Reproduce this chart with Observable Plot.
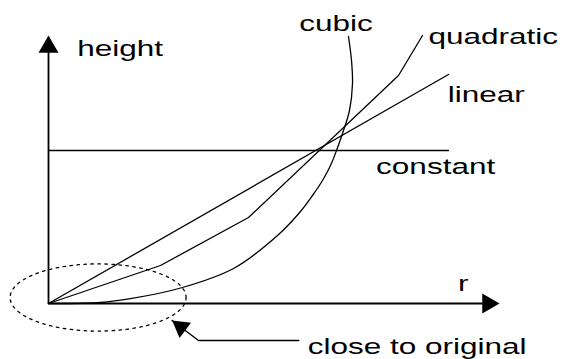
<!DOCTYPE html>
<html><head><meta charset="utf-8">
<script src="https://cdn.jsdelivr.net/npm/d3@7"></script>
<script src="https://cdn.jsdelivr.net/npm/@observablehq/plot@0.6"></script>
<style>body{margin:0;background:#fff}</style>
</head><body><div id="chart"></div>
<script>
// values (r units horizontally, height units vertically)
const constantR = [0, 10];
const constantH = [3.825, 3.825];
const linearR = [0, 10];
const linearH = [0, 5.725];
const quadraticR = [0, 2.8, 5.0, 8.75, 9.35];
const quadraticH = [0, 0.95, 2.15, 5.7, 6.7];
const cubicR = [0, 1.3, 2.05, 3.35, 4.625, 5.725, 6.3, 6.6, 6.85, 7.05, 7.2, 7.35, 7.525, 7.6, 7.575, 7.5];
const cubicH = [0, 0.025, 0.12, 0.4, 0.875, 1.7, 2.3, 2.7, 3.075, 3.45, 3.825, 4.25, 4.825, 5.5, 6.075, 6.675];
const labels = ["height", "cubic", "quadratic", "linear", "constant", "r", "close to original"];
const labelR = [0.72, 6.27, 9.5, 9.98, 8.19, 10.24, 6.48];
const labelH = [6.2, 6.825, 6.49, 5.03, 3.24, 0.325, -1.26];
const axisEndR = 11.275;
const axisEndH = 6.7;
const ellipseCenter = [1.24, 0.15];
const ellipseRadii = [2.2, 0.84];
const leaderR = [6.255, 3.75, 3.09];
const leaderH = [-0.925, -0.925, -0.425];

const pts = (R, H) => R.map((r, i) => ({r, h: H[i]}));
const ellipse = d3.range(0, 361, 3).map(a => {
  const t = a * Math.PI / 180;
  return {r: ellipseCenter[0] + ellipseRadii[0] * Math.cos(t), h: ellipseCenter[1] + ellipseRadii[1] * Math.sin(t)};
});
const labelData = labels.map((t, i) => ({t, r: labelR[i], h: labelH[i]}));
const lineOpts = {x: "r", y: "h", stroke: "black", strokeWidth: 1.3};

const plot = Plot.plot({
  width: 562,
  height: 359,
  marginLeft: 48,
  marginRight: 114,
  marginTop: 23,
  marginBottom: 56,
  x: {domain: [0, 10], axis: null},
  y: {domain: [0, 7], axis: null},
  style: {fontFamily: "'Liberation Sans', Arial, sans-serif", background: "#fff", overflow: "visible"},
  marks: [
    Plot.line(ellipse, {...lineOpts, strokeWidth: 1.3, strokeDasharray: "2.5,4.5"}),
    Plot.line(pts([0, 0, axisEndR - 0.4], [axisEndH - 0.3, 0, 0]), {...lineOpts, strokeWidth: 1.8}),
    Plot.dot([{r: 0, h: axisEndH}], {x: "r", y: "h", symbol: "triangle", r: 7.42, fill: "black", stroke: "none", dy: 11.5}),
    Plot.dot([{r: axisEndR, h: 0}], {x: "r", y: "h", symbol: "triangle", r: 7.42, fill: "black", stroke: "none", rotate: 90, dx: -11.5}),
    Plot.line(pts(constantR, constantH), lineOpts),
    Plot.line(pts(linearR, linearH), lineOpts),
    Plot.line(pts(quadraticR, quadraticH), lineOpts),
    Plot.line(pts(cubicR, cubicH), {...lineOpts, curve: "catmull-rom"}),
    Plot.line(pts(leaderR, leaderH), {...lineOpts, strokeWidth: 1.5}),
    Plot.dot([{r: leaderR[2], h: leaderH[2]}], {x: "r", y: "h", symbol: "triangle", r: 7.05, fill: "black", stroke: "none", rotate: -53, dx: 8.8, dy: 6.6}),
    Plot.text(labelData, {x: "r", y: "h", text: "t", textAnchor: "start", lineAnchor: "bottom", fontSize: 22.5, fill: "black", className: "lbl"})
  ]
});
document.getElementById("chart").appendChild(plot);
d3.select(plot).selectAll(".lbl text").each(function () {
  const w = this.getComputedTextLength();
  this.setAttribute("textLength", w * 1.4);
  this.setAttribute("lengthAdjust", "spacingAndGlyphs");
});
</script>
</body></html>
